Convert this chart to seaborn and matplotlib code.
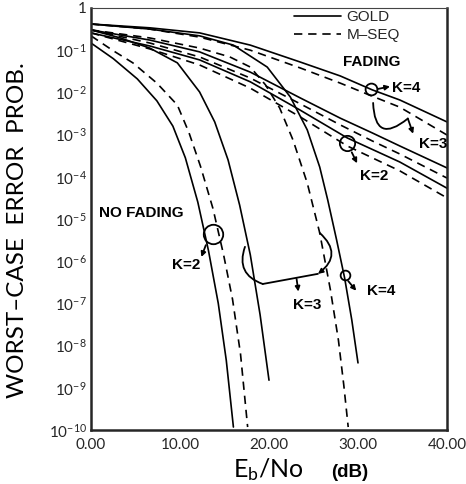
import numpy as np
import pandas as pd
import matplotlib
matplotlib.use('Agg')
import matplotlib.pyplot as plt
from matplotlib.lines import Line2D
import seaborn as sns

## Eb/No (dB) and log10 of worst-case error probability
## no fading
nf_k2_gold_db = [0, 2.5, 5.2, 7.4, 9.2, 10.6, 12.0, 13.2, 14.3, 15.2, 16.0]
nf_k2_gold_lg = [-0.83, -1.20, -1.68, -2.20, -2.80, -3.55, -4.60, -5.75, -7.00, -8.35, -9.93]
nf_k2_mseq_db = [0, 2.4, 4.7, 7.4, 9.7, 11.0, 12.3, 13.7, 14.9, 15.9, 16.8, 17.6]
nf_k2_mseq_lg = [-0.66, -1.00, -1.30, -1.78, -2.30, -2.95, -3.75, -4.75, -5.85, -6.90, -8.20, -9.93]
nf_k3_gold_db = [0, 3.3, 6.6, 9.7, 12.2, 13.9, 15.4, 16.7, 17.9, 19.0, 20.0]
nf_k3_gold_lg = [-0.52, -0.71, -0.95, -1.30, -1.99, -2.70, -3.60, -4.67, -5.85, -7.27, -8.82]
nf_k3_mseq_db = [0, 6.6, 12.2, 15.6, 17.9, 19.6, 21.2, 22.7, 24.3, 25.7, 26.9, 27.8, 28.4, 28.9]
nf_k3_mseq_lg = [-0.52, -0.71, -0.95, -1.16, -1.40, -1.82, -2.37, -3.13, -4.15, -5.33, -6.68, -7.87, -8.93, -9.93]
nf_k4_gold_db = [0, 6.6, 12.2, 16.0, 19.8, 22.4, 24.3, 25.7, 26.6, 27.6, 28.5, 29.3, 30.0]
nf_k4_gold_lg = [-0.38, -0.50, -0.66, -0.88, -1.40, -2.11, -2.89, -3.77, -4.55, -5.50, -6.40, -7.39, -8.41]

## fading
f_k4_gold_db = [0, 6.6, 12.2, 17.9, 23.5, 28.0, 31.6, 34.7, 40.0]
f_k4_gold_lg = [-0.38, -0.47, -0.59, -0.88, -1.28, -1.61, -1.94, -2.18, -2.70]
f_k4_mseq_db = [0, 6.6, 12.2, 17.9, 23.5, 28.0, 31.6, 34.7, 40.0]
f_k4_mseq_lg = [-0.38, -0.50, -0.69, -1.00, -1.42, -1.78, -2.09, -2.35, -3.01]
f_k3_gold_db = [0, 6.6, 12.2, 17.9, 23.5, 28.0, 31.6, 34.7, 40.0]
f_k3_gold_lg = [-0.52, -0.76, -1.04, -1.52, -2.13, -2.61, -2.96, -3.27, -3.79]
f_k3_mseq_db = [0, 6.6, 12.2, 17.9, 23.5, 28.0, 31.6, 34.7, 40.0]
f_k3_mseq_lg = [-0.52, -0.83, -1.16, -1.66, -2.27, -2.77, -3.15, -3.46, -4.03]
f_k2_gold_db = [0, 6.6, 12.2, 17.9, 23.5, 28.8, 34.7, 40.0]
f_k2_gold_lg = [-0.59, -0.90, -1.23, -1.75, -2.42, -3.08, -3.65, -4.27]
f_k2_mseq_db = [0, 6.6, 12.2, 17.9, 23.5, 28.8, 34.7, 40.0]
f_k2_mseq_lg = [-0.59, -0.97, -1.35, -1.90, -2.58, -3.27, -3.86, -4.50]

x_ticks = [0, 10, 20, 30, 40]
x_tick_labels = ['0.00', '10.00', '20.00', '30.00', '40.00']
y_exps = list(range(0, -11, -1))
y_tick_labels = ['1'] + [f'$10^{{{e}}}$' for e in y_exps[1:]]
series_labels = ['GOLD', 'M\u2013SEQ']

sns.set_style('white')
plt.rcParams['font.family'] = ['Lato', 'DejaVu Sans']
plt.rcParams['mathtext.fontset'] = 'custom'
plt.rcParams['mathtext.rm'] = 'Lato'
plt.rcParams['mathtext.it'] = 'Lato'

fig = plt.figure(figsize=(4.66, 4.84), dpi=100)
ax = fig.add_axes([0.1953, 0.1116, 0.7639, 0.8719])
ax.set_yscale('log')

DASH = (0, (5, 3.5))
curves = [
    (nf_k2_gold_db, nf_k2_gold_lg, '-'), (nf_k2_mseq_db, nf_k2_mseq_lg, DASH),
    (nf_k3_gold_db, nf_k3_gold_lg, '-'), (nf_k3_mseq_db, nf_k3_mseq_lg, DASH),
    (nf_k4_gold_db, nf_k4_gold_lg, '-'),
    (f_k4_gold_db, f_k4_gold_lg, '-'), (f_k4_mseq_db, f_k4_mseq_lg, DASH),
    (f_k3_gold_db, f_k3_gold_lg, '-'), (f_k3_mseq_db, f_k3_mseq_lg, DASH),
    (f_k2_gold_db, f_k2_gold_lg, '-'), (f_k2_mseq_db, f_k2_mseq_lg, DASH),
]
for db, lg, ls in curves:
    df = pd.DataFrame({'db': db, 'pe': np.power(10.0, lg)})
    sns.lineplot(data=df, x='db', y='pe', ax=ax, color='black', lw=1.2,
                 linestyle=ls, estimator=None, sort=False)

ax.set_xlim(0, 40)
ax.set_ylim(1e-10, 1)
ax.set_xlabel('')
ax.set_ylabel('')

## ticks
ax.set_xticks(x_ticks)
ax.set_xticklabels(x_tick_labels)
ax.set_xticks(np.arange(0, 41, 1), minor=True)
ax.set_yticks([10.0 ** e for e in y_exps])
ax.set_yticklabels(y_tick_labels)
ax.yaxis.set_minor_locator(matplotlib.ticker.LogLocator(base=10, subs=np.arange(2, 10), numticks=20))
ax.yaxis.set_minor_formatter(matplotlib.ticker.NullFormatter())
ax.tick_params(axis='y', which='major', direction='in', length=7, width=2.2, pad=3, labelsize=11)
ax.tick_params(axis='y', which='minor', direction='in', length=4, width=1)
ax.tick_params(axis='x', which='major', direction='in', length=8, width=1.5, pad=6, labelsize=11)
ax.tick_params(axis='x', which='minor', direction='in', length=5, width=1)
for s in ['left', 'bottom', 'right']:
    ax.spines[s].set_linewidth(1.8)
ax.spines['top'].set_linewidth(0.8)
ax.spines['top'].set_color('#444444')

## legend
handles = [Line2D([], [], color='black', lw=1.2, linestyle='-'),
           Line2D([], [], color='black', lw=1.2, linestyle=DASH)]
leg = ax.legend(handles, series_labels, loc='upper left', bbox_to_anchor=(0.57, 0.995),
                frameon=False, fontsize=11, handlelength=3.1, handletextpad=0.35,
                labelspacing=0.25, borderpad=0, borderaxespad=0)
for t in leg.get_texts():
    t.set_family(['Liberation Sans', 'DejaVu Sans'])

## annotations (dB, log10 Pe)
def P(db, lg):
    return (db, 10.0 ** lg)

bold = dict(family=['Liberation Sans', 'DejaVu Sans'], fontweight='bold', color='black')
ax.text(*P(31.6, -1.28), 'FADING', ha='center', va='center', fontsize=11, **bold)
ax.text(*P(5.7, -4.86), 'NO FADING', ha='center', va='center', fontsize=11, **bold)

def circle(db, lg, size):
    ax.plot(*P(db, lg), marker='o', ms=size, mfc='none', mec='black', mew=1.3)

def arrow(a, b, style='-|>', rad=0.0):
    ax.annotate('', xy=P(*b), xytext=P(*a),
                arrowprops=dict(arrowstyle=style, color='black', lw=1.3,
                                mutation_scale=7, shrinkA=0, shrinkB=0,
                                connectionstyle=f'arc3,rad={rad}'))

def klabel(db, lg, txt, ha='center'):
    ax.text(*P(db, lg), txt, ha=ha, va='center', fontsize=11, **bold)

# fading K=4
circle(31.5, -1.92, 8.5)
arrow((32.2, -1.92), (33.6, -1.86))
klabel(33.8, -1.90, 'K=4', ha='left')
# fading K=3
arrow((31.7, -2.25), (35.6, -2.62), style='-', rad=1.0)
arrow((35.6, -2.62), (36.2, -2.98))
klabel(36.9, -3.22, 'K=3', ha='left')
# fading K=2
circle(28.8, -3.20, 11)
arrow((29.3, -3.42), (29.9, -3.68))
klabel(31.8, -3.98, 'K=2')
# no fading K=2
circle(13.7, -5.36, 14)
arrow((12.9, -5.62), (12.4, -5.90))
klabel(10.7, -6.09, 'K=2')
# no fading K=3
arrow((17.3, -5.66), (19.3, -6.54), style='-', rad=0.5)
arrow((19.3, -6.54), (25.5, -6.30), style='-')
arrow((25.7, -5.33), (25.5, -6.30), style='-|>', rad=-0.6)
arrow((23.1, -6.42), (23.3, -6.72))
klabel(24.3, -7.04, 'K=3')
# no fading K=4
circle(28.5, -6.33, 7)
arrow((28.9, -6.47), (29.8, -6.70))
klabel(32.6, -6.71, 'K=4')

## axis labels
light = dict(family=['Lato', 'DejaVu Sans'], fontweight='normal', color='black')
fig.text(18 / 466, 1 - 230 / 484, 'WORST\u2013CASE  ERROR  PROB.', rotation=90,
         ha='center', va='center', fontsize=17.5, **light)
fig.text(268 / 466, 0.015, 'E$_b$/No', ha='center', va='baseline', fontsize=18, **light)
fig.text(350 / 466, 0.015, '(dB)', ha='center', va='baseline', fontsize=13.5, **bold)

fig.savefig('out.png', dpi=100)
